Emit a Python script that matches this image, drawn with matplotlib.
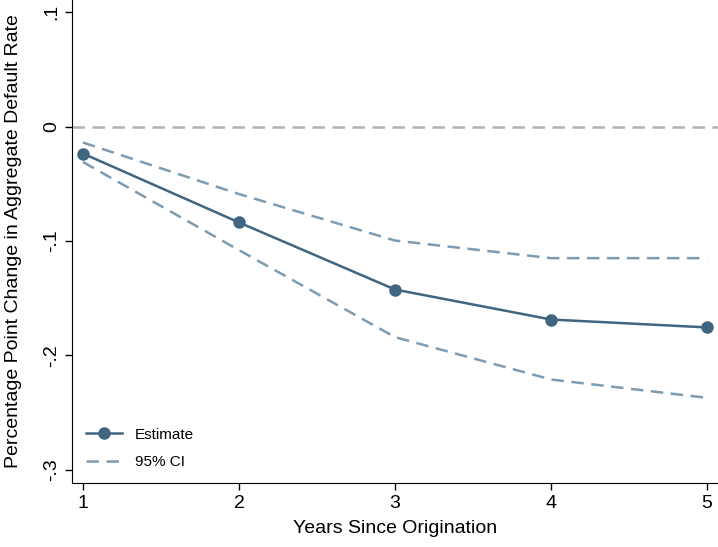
import matplotlib
matplotlib.use("Agg")
import matplotlib.pyplot as plt

plt.rcParams["font.family"] = ["Liberation Sans", "DejaVu Sans"]

# data
years = [1, 2, 3, 4, 5]
estimate = [-0.0236, -0.0838, -0.1424, -0.1686, -0.1755]
ci_upper = [-0.0140, -0.0590, -0.0996, -0.1150, -0.1150]
ci_lower = [-0.0310, -0.1080, -0.1840, -0.2210, -0.2370]
yticks = [-0.3, -0.2, -0.1, 0.0, 0.1]
ytick_labels = ["-.3", "-.2", "-.1", "0", ".1"]

est_color = "#3f6580"
ci_color = "#7d9cb2"

fig = plt.figure(figsize=(7.18, 5.47), dpi=100)
ax = fig.add_axes([0.1003, 0.117, 0.8997, 0.883])

ax.axhline(0, color="#b3b3b3", linestyle=(0, (5, 3)), linewidth=1.8, zorder=1)
ax.plot(years, ci_upper, color=ci_color, linestyle=(0, (5, 3)), linewidth=1.8, label="95% CI")
ax.plot(years, ci_lower, color=ci_color, linestyle=(0, (5, 3)), linewidth=1.8)
ax.plot(years, estimate, color=est_color, linewidth=1.8, marker="o", markersize=8, label="Estimate")

ax.set_xlim(0.93, 5.07)
ax.set_ylim(-0.3114, 0.1105)
ax.set_xticks(years)
ax.set_yticks(yticks)
ax.set_yticklabels(ytick_labels, rotation=90, va="center")
ax.tick_params(labelsize=14, length=5, width=1)

ax.spines["top"].set_visible(False)
ax.spines["right"].set_visible(False)

ax.set_xlabel("Years Since Origination", fontsize=14, labelpad=6)
ax.set_ylabel("Percentage Point Change in Aggregate Default Rate", fontsize=14, labelpad=15)

h, l = ax.get_legend_handles_labels()
ax.legend([h[1], h[0]], [l[1], l[0]], loc="lower left", frameon=False, fontsize=11,
          handlelength=2.4, labelspacing=0.9, bbox_to_anchor=(0.0, 0.0))

fig.savefig("out.png", dpi=100)
